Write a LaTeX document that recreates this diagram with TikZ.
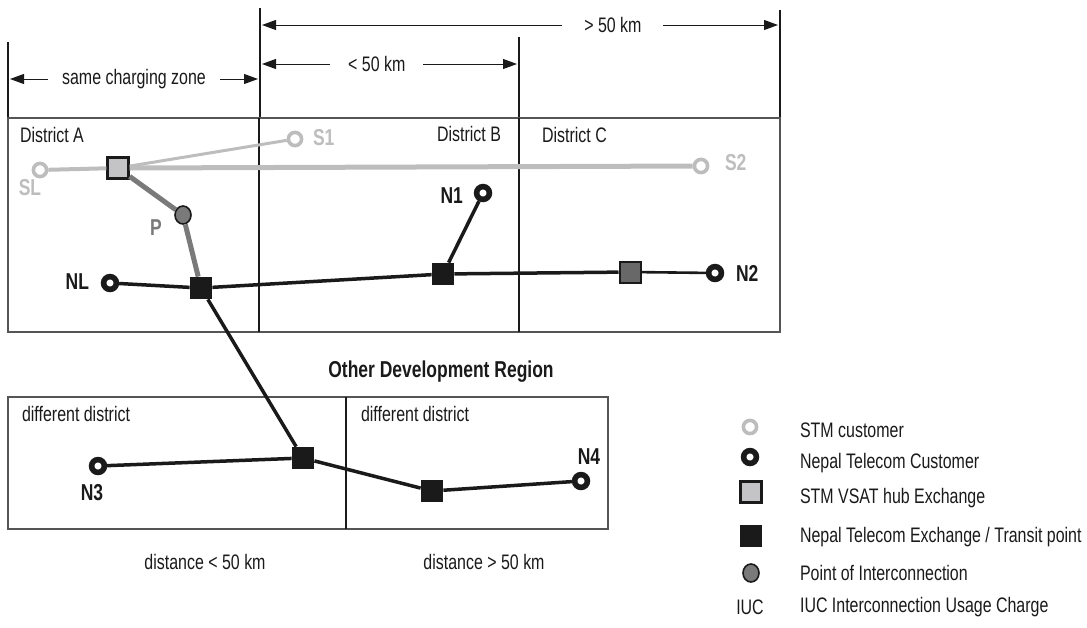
\documentclass[tikz,border=0pt]{standalone}
\usepackage{fontspec}
\setmainfont{Liberation Sans}[FakeStretch=0.76]
\usetikzlibrary{arrows.meta,shapes.geometric}
\definecolor{ink}{HTML}{1A1A1A}
\definecolor{stmgray}{HTML}{BDBDBD}
\definecolor{hubgray}{HTML}{C4C4C6}
\definecolor{poigray}{HTML}{7A7A7A}
\definecolor{darkhub}{HTML}{686868}
\definecolor{frame}{HTML}{555555}

\begin{document}
\begin{tikzpicture}[
  x={(0.5pt,0)}, y={(0,-0.5pt)},
  font=\fontsize{10.5}{12}\selectfont, text=ink,
  customer/.style={circle,draw=ink,fill=white,line width=2.8pt,minimum size=6.4pt,inner sep=0pt},
  stmcust/.style={circle,draw=stmgray,fill=white,line width=1.8pt,minimum size=6.6pt,inner sep=0pt},
  hub/.style={rectangle,draw=ink,fill=hubgray,line width=1.2pt,minimum size=10.5pt,inner sep=0pt},
  exch/.style={rectangle,fill=ink,minimum size=11pt,inner sep=0pt},
  dhub/.style={rectangle,draw=ink,fill=darkhub,line width=1pt,minimum size=10.5pt,inner sep=0pt},
  poi/.style={ellipse,draw=ink,fill=poigray,line width=0.8pt,minimum width=8pt,minimum height=9pt,inner sep=0pt},
  lbl/.style={font=\fontsize{11.5}{13}\selectfont\bfseries},
  dim/.style={{Triangle[length=7pt,width=5pt]}-{Triangle[length=7pt,width=5pt]},line width=0.5pt,ink},
  gap/.style={fill=white,inner ysep=1pt},
  wire/.style={line width=1.75pt,ink}
]
  \useasboundingbox (0,0) rectangle (1087,627);

  % distance scale
  \coordinate (t0) at (8,42);   \coordinate (b0) at (8,118);
  \coordinate (t1) at (260,8);  \coordinate (b1) at (260,118);
  \coordinate (t2) at (519,37); \coordinate (b2) at (519,118);
  \coordinate (t3) at (780,10); \coordinate (b3) at (780,118);
  \draw[line width=0.6pt,ink] (t0) -- (b0) (t1) -- (b1) (t2) -- (b2) (t3) -- (b3);
  \coordinate (z0) at (10,79);  \coordinate (z1) at (258,79);
  \coordinate (k0) at (262,64); \coordinate (k1) at (517,64);
  \coordinate (m0) at (262,25); \coordinate (m1) at (778,25);
  \draw[dim] (z0) -- node[gap,inner xsep=7pt] {same charging zone} (z1);
  \draw[dim] (k0) -- node[gap,inner xsep=9pt,pos=0.45] {< 50 km} (k1);
  \draw[dim] (m0) -- node[gap,inner xsep=11pt,pos=0.68] {> 50 km} (m1);

  % districts
  \draw[frame,line width=0.75pt] (8,118) rectangle (780,332);
  \draw[ink,line width=0.6pt] (259,118) -- (259,332) (519,118) -- (519,332);
  \draw[frame,line width=0.75pt] (8,397) rectangle (608,529);
  \draw[ink,line width=0.6pt] (346,397) -- (346,529);
  \node[anchor=west] (da) at (13,135) {District A};
  \node[anchor=east] (db) at (508,134) {District B};
  \node[anchor=west] (dc) at (535,135) {District C};
  \node[lbl] (odr) at (441,372) {Other Development Region};
  \node[anchor=west] (dd1) at (15,414) {different district};
  \node[anchor=west] (dd2) at (354,414) {different district};
  \node (dist1) at (205,562) {distance < 50 km};
  \node (dist2) at (484,562) {distance > 50 km};

  % STM side
  \node[stmcust] (SL) at (40,170) {};
  \node[stmcust] (S1) at (295,139) {};
  \node[stmcust] (S2) at (701,166) {};
  \node[hub] (H) at (118,168) {};
  \node[poi] (P) at (183,215) {};
  \draw[stmgray,line width=2pt] (SL) -- (H);
  \draw[stmgray,line width=1.5pt] (H) -- (S1);
  \draw[stmgray,line width=2.5pt] (H.east) -- (S2);
  \draw[poigray,line width=2.5pt] (H) -- (P);
  \node[lbl,text=stmgray] (lSL) at (30,188) {SL};
  \node[lbl,text=stmgray,anchor=west] (lS1) at (306,138) {S1};
  \node[lbl,text=stmgray,anchor=west] (lS2) at (718,163) {S2};
  \node[lbl,text=poigray] (lP) at (156,228) {P};

  % Nepal Telecom side
  \node[customer] (NL) at (110,283) {};
  \node[customer] (N1) at (483,193) {};
  \node[customer] (N2) at (715,273) {};
  \node[customer] (N3) at (98,466) {};
  \node[customer] (N4) at (581,481) {};
  \node[exch] (EA) at (201,288) {};
  \node[exch] (EB) at (443,274) {};
  \node[dhub] (EC) at (630,272) {};
  \node[exch] (ED) at (303,458) {};
  \node[exch] (EE) at (432,491) {};
  \draw[poigray,line width=2.5pt] (P) -- (EA);
  \draw[wire] (NL) -- (EA);
  \draw[wire] (EA) -- (EB);
  \draw[wire] (EB) -- (N1);
  \draw[wire] (EB) -- (EC);
  \draw[wire,line width=1.3pt] (EC) -- (N2);
  \draw[wire] (EA) -- (ED);
  \draw[wire] (N3) -- (ED);
  \draw[wire] (ED) -- (EE);
  \draw[wire] (EE) -- (N4);
  \node[lbl,anchor=east] (lNL) at (96,282) {NL};
  \node[lbl,anchor=east] (lN1) at (470,196) {N1};
  \node[lbl,anchor=west] (lN2) at (729,273) {N2};
  \node[lbl] (lN3) at (92,493) {N3};
  \node[lbl] (lN4) at (589,457) {N4};

  % legend
  \node[stmcust] (k1) at (750,427) {};
  \node[customer] (k2) at (750,457) {};
  \node[hub] (k3) at (751,492) {};
  \node[exch] (k4) at (751,536) {};
  \node[poi] (k5) at (751,573) {};
  \node (k6) at (750,607) {IUC};
  \node[anchor=west] (t1) at (793,430) {STM customer};
  \node[anchor=west] (t2) at (793,463) {Nepal Telecom Customer};
  \node[anchor=west] (t3) at (793,498) {STM VSAT hub Exchange};
  \node[anchor=west] (t4) at (793,537) {Nepal Telecom Exchange / Transit point};
  \node[anchor=west] (t5) at (793,573) {Point of Interconnection};
  \node[anchor=west] (t6) at (793,607) {IUC Interconnection Usage Charge};
\end{tikzpicture}
\end{document}
